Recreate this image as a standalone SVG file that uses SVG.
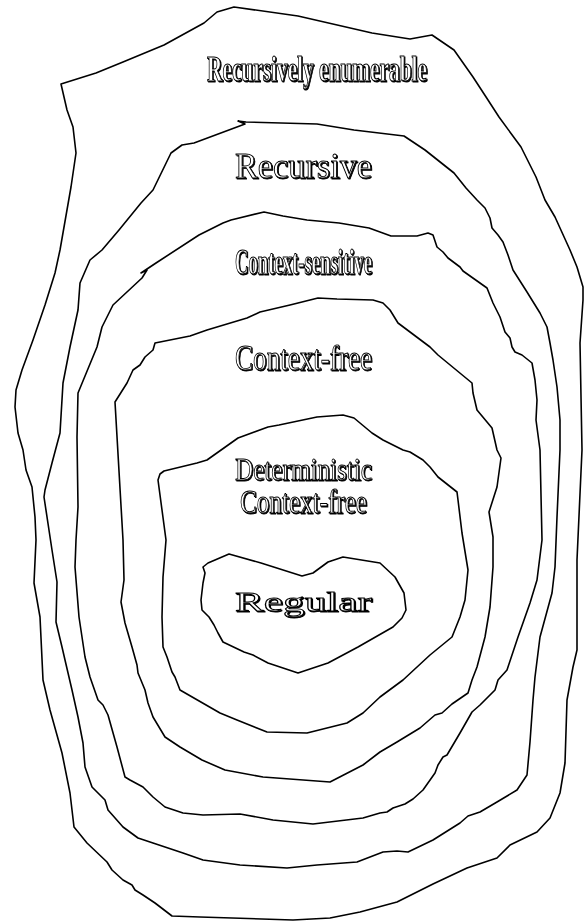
<svg xmlns="http://www.w3.org/2000/svg" width="584" height="922" viewBox="0 0 584 922">
<defs>
<filter id="shadow" x="-5%" y="-20%" width="110%" height="140%">
<feOffset in="SourceAlpha" dx="1.3" dy="1.3" result="o"/>
<feMerge><feMergeNode in="o"/><feMergeNode in="SourceGraphic"/></feMerge>
</filter>
</defs>
<style>
.b{fill:none;stroke:#000;stroke-width:1.6;stroke-linejoin:round;stroke-linecap:round}
.t{font-family:"Liberation Serif","Times New Roman",serif;text-anchor:middle;fill:#fff;stroke:#000;stroke-width:0.9;filter:url(#shadow)}
.bold{font-weight:bold;stroke-width:1.1}
</style>
<rect width="584" height="922" fill="#fff"/>
<g id="connectors"></g>
<g id="recursively-enumerable">
<path class="b" d="M61,84 L96,73 L123,62 L164,45 L204,23 L217,12 L234,7 L298,16 L372,33 L410,39 L432,35 L454,50 L473,77 L488,100 L499,117 L521,147 L536,177 L545,200 L555,217 L570,250 L577,267 L583,287 L583,300 L580,343 L582,450 L577,560 L577,650 L573,667 L567,700 L565,763 L560,793 L550,818 L537,832 L510,845 L497,858 L467,868 L433,884 L397,902 L360,912 L330,918 L293,920 L200,917 L172,916 L155,903 L143,895 L135,890 L132,885 L123,880 L112,870 L107,862 L87,843 L74,827 L70,793 L62,753 L50,710 L43,680 L40,617 L34,583 L36,540 L35,517 L32,487 L26,470 L23,450 L18,433 L15,407 L16,390 L22,370 L33,340 L45,305 L55,273 L60,250 L71,187 L76,153 L73,127 L67,110 Z"/>
<text class="t bold" x="317" y="81" font-size="35" textLength="220" lengthAdjust="spacingAndGlyphs">Recursively enumerable</text>
</g>
<g id="recursive">
<path class="b" d="M194,143 L245,124 L238,121 L246,122 L317,124 L354,130 L404,136 L425,150 L454,173 L466,188 L477,200 L485,208 L490,218 L492,228 L498,235 L503,242 L508,255 L513,270 L527,292 L540,313 L547,327 L550,343 L553,360 L557,387 L560,420 L560,450 L557,517 L555,567 L552,593 L540,637 L535,677 L533,700 L530,742 L527,775 L517,790 L497,802 L480,812 L468,816 L460,823 L433,840 L408,852 L397,851 L383,852 L357,862 L317,865 L287,868 L240,865 L203,860 L183,853 L153,843 L138,838 L123,827 L108,810 L105,800 L92,787 L85,767 L83,743 L78,717 L72,690 L65,660 L62,647 L56,622 L57,582 L52,550 L44,497 L45,490 L52,463 L60,433 L63,383 L70,347 L78,310 L80,283 L90,260 L102,250 L119,230 L141,203 L153,190 L171,153 L182,145 Z"/>
<text class="t" x="303.5" y="178" font-size="35" textLength="137" lengthAdjust="spacingAndGlyphs">Recursive</text>
</g>
<g id="context-sensitive">
<path class="b" d="M264,212 L283,216 L307,220 L339,223 L369,228 L391,236 L417,236 L428,233 L433,235 L437,247 L443,252 L448,258 L460,267 L463,271 L487,288 L493,303 L500,317 L505,332 L510,338 L512,347 L515,352 L522,355 L532,363 L535,380 L537,400 L536,420 L540,450 L542,540 L537,580 L530,603 L518,637 L507,670 L498,680 L495,690 L480,705 L472,712 L460,733 L447,755 L443,757 L438,765 L435,773 L423,790 L413,799 L405,804 L393,808 L387,812 L380,813 L363,818 L313,824 L273,820 L240,814 L203,815 L183,813 L165,807 L153,797 L143,787 L130,780 L125,777 L117,747 L108,715 L103,705 L98,700 L90,677 L85,657 L79,617 L75,567 L76,540 L78,507 L77,437 L78,393 L97,347 L102,327 L113,305 L142,278 L147,270 L141,273 L156,263 L199,235 L223,223 L231,220 Z"/>
<text class="t bold" x="303.5" y="274" font-size="36" textLength="137" lengthAdjust="spacingAndGlyphs">Context-sensitive</text>
</g>
<g id="context-free">
<path class="b" d="M155,343 L190,336 L207,330 L247,318 L260,312 L290,305 L318,298 L337,299 L373,300 L383,303 L390,310 L398,323 L410,332 L430,347 L438,355 L472,383 L473,393 L477,410 L487,422 L492,428 L497,450 L501,458 L497,487 L489,512 L493,537 L493,567 L490,607 L485,637 L477,667 L472,680 L468,693 L452,704 L442,713 L435,715 L420,728 L397,742 L380,752 L363,765 L330,782 L263,777 L225,770 L202,760 L180,747 L165,737 L153,717 L148,703 L145,690 L138,673 L137,665 L132,647 L125,623 L121,602 L124,580 L123,540 L115,402 L127,383 L133,370 L140,365 L145,357 L153,350 Z"/>
<text class="t" x="303.5" y="370" font-size="36" textLength="137" lengthAdjust="spacingAndGlyphs">Context-free</text>
</g>
<g id="deterministic-context-free">
<path class="b" d="M164,471 L197,463 L207,460 L238,438 L268,427 L279,425 L317,417 L343,415 L354,418 L372,433 L383,440 L403,450 L410,452 L423,460 L430,467 L438,477 L457,492 L458,500 L462,533 L468,570 L465,600 L460,617 L452,637 L430,655 L403,680 L380,697 L363,713 L347,723 L307,733 L267,732 L237,720 L220,713 L180,690 L175,677 L172,672 L167,657 L163,647 L162,617 L163,577 L166,540 L158,480 L160,474 Z"/>
<text class="t" x="303.5" y="480" font-size="32" textLength="137" lengthAdjust="spacingAndGlyphs">Deterministic</text>
<text class="t" x="303.5" y="513" font-size="33" textLength="127" lengthAdjust="spacingAndGlyphs">Context-free</text>
</g>
<g id="regular">
<path class="b" d="M203,567 L208,563 L229,554 L261,563 L302,576 L313,573 L328,562 L343,557 L380,563 L395,577 L404,593 L406,610 L402,618 L393,627 L358,647 L328,663 L298,673 L268,663 L253,655 L244,652 L223,642 L218,633 L214,625 L209,617 L202,610 L201,600 L203,583 L205,573 Z"/>
<text class="t" x="303.5" y="611" font-size="28" textLength="137" lengthAdjust="spacingAndGlyphs">Regular</text>
</g>
</svg>
